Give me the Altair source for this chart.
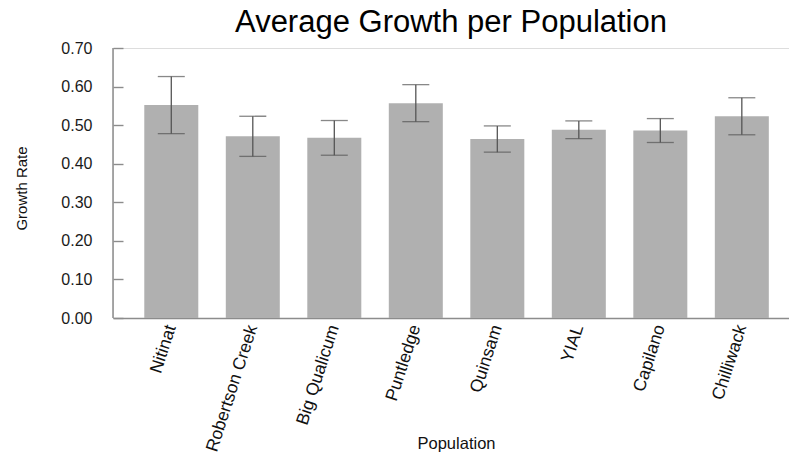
import altair as alt
import pandas as pd

# Mean growth rate per population with standard-error bars
populations = ["Nitinat", "Robertson Creek", "Big Qualicum", "Puntledge",
               "Quinsam", "YIAL", "Capilano", "Chilliwack"]
means = [0.552, 0.471, 0.467, 0.557, 0.464, 0.488, 0.486, 0.523]
std_err = [0.074, 0.052, 0.045, 0.048, 0.034, 0.023, 0.031, 0.048]
y_ticks = [0.0, 0.1, 0.2, 0.3, 0.4, 0.5, 0.6, 0.7]

df = pd.DataFrame({
    "Population": populations,
    "Growth": means,
    "Lower": [m - s for m, s in zip(means, std_err)],
    "Upper": [m + s for m, s in zip(means, std_err)],
})

FONT = "Liberation Sans"
AXIS_GREY = "#8c8c8c"

x_scale = alt.Scale(paddingInner=0.3374, paddingOuter=0.3157, align=0.608)
x_enc = alt.X("Population:N", sort=populations, scale=x_scale,
              axis=alt.Axis(title="Population"))
x_plain = alt.X("Population:N", sort=populations, axis=None)

y_scale = alt.Scale(domain=[0, 0.7], nice=False, zero=True)
y_axis = alt.Axis(
    title="Growth Rate", values=y_ticks, format=".2f", tickCount=8,
    offset=-10, domain=False,
    ticks=True, tickSize=10, tickColor=AXIS_GREY, tickWidth=1.4,
    labelOverlap=False, labelBound=False,
    labelPadding=21, labelFontSize=16, labelColor="#1a1a1a",
    titleFontSize=15, titleColor="#111",
    titleAngle=270, titleX=-102, titleY=140, titleAlign="center", titleBaseline="middle",
)

base = alt.Chart(df)

bars = base.mark_bar(color="#b0b0b0").encode(
    x=x_enc,
    y=alt.Y("Growth:Q", scale=y_scale, axis=y_axis),
)

err = base.mark_rule(color="#555555", strokeWidth=1.3).encode(
    x=x_plain,
    y=alt.Y("Lower:Q", axis=None),
    y2="Upper:Q",
)

cap_hi = base.mark_tick(color="#555555", thickness=1.3, size=27).encode(
    x=x_plain,
    y=alt.Y("Upper:Q", axis=None),
)
cap_lo = base.mark_tick(color="#555555", thickness=1.3, size=27).encode(
    x=x_plain,
    y=alt.Y("Lower:Q", axis=None),
)

# vertical axis line joining the inward ticks
y_line = alt.Chart(alt.Data(values=[{}])).mark_rule(
    color=AXIS_GREY, strokeWidth=1.5
).encode(
    x=alt.value(0),
    y=alt.datum(0.7, axis=None),
    y2=alt.datum(0),
)

chart = alt.layer(bars, err, cap_hi, cap_lo, y_line).resolve_axis(
    x="independent", y="independent"
).properties(
    width=676,
    height=270,
    padding={"left": 113, "top": 48, "right": 0, "bottom": 141},
    autosize=alt.AutoSizeParams(type="none"),
    title=alt.TitleParams(
        "Average Growth per Population",
        fontSize=31, fontWeight="normal", font=FONT, color="#000",
        anchor="middle", baseline="alphabetic", offset=10, dy=33,
    ),
).configure_view(stroke=None).configure(background="white").configure_axis(
    grid=False, labelFont=FONT, titleFont=FONT, titleFontWeight="normal",
).configure_axisX(
    domain=True, domainColor=AXIS_GREY, domainWidth=1.5,
    ticks=False,
    labelAngle=-72, labelAlign="right", labelBaseline="middle",
    labelPadding=7, labelFontSize=17.5, labelColor="#111",
    labelOverlap=False, labelLimit=300,
    titleFontSize=16.5, titleColor="#111",
    titleX=343, titleY=130, titleBaseline="alphabetic", titleAlign="center",
)

chart.save("out.html", embed_options={"renderer": "svg", "actions": False})
